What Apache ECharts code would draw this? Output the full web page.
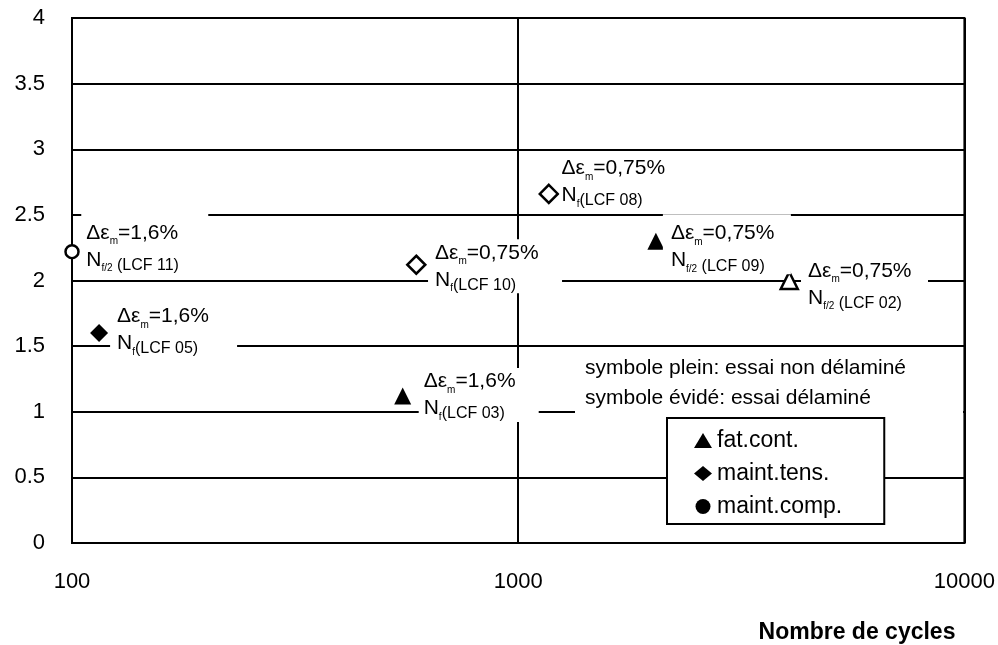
<!DOCTYPE html>
<html>
<head>
<meta charset="utf-8">
<script src="https://cdn.jsdelivr.net/npm/echarts@6/dist/echarts.min.js"></script>
<style>
html,body{margin:0;padding:0;background:#fff;}
#chart{width:998px;height:645px;}
</style>
</head>
<body>
<div id="chart"></div>
<script>
// ---- data ----
const seriesNames = ['fat.cont.', 'maint.tens.', 'maint.comp.'];
const xTickLabels = ['100', '1000', '10000'];

// fat.cont. (triangles)
const fatSpecimen = ['LCF 09', 'LCF 03', 'LCF 02'];
const fatCycles   = [2035, 551, 4050];
const fatValue    = [2.30, 1.12, 2.00];
const fatFilled   = [true, true, false];
const fatStrain   = ['0,75', '1,6', '0,75'];
const fatLife     = ['f/2', 'f', 'f/2'];

// maint.tens. (diamonds)
const tensSpecimen = ['LCF 05', 'LCF 10', 'LCF 08'];
const tensCycles   = [115, 591, 1171];
const tensValue    = [1.60, 2.12, 2.66];
const tensFilled   = [true, false, false];
const tensStrain   = ['1,6', '0,75', '0,75'];
const tensLife     = ['f', 'f', 'f'];

// maint.comp. (circles)
const compSpecimen = ['LCF 11'];
const compCycles   = [100];
const compValue    = [2.22];
const compFilled   = [false];
const compStrain   = ['1,6'];
const compLife     = ['f/2'];

const noteLines = ['symbole plein: essai non délaminé', 'symbole évidé: essai délaminé'];
const xTitle = 'Nombre de cycles';

// ---- layout / style (not data) ----
const FONT = '"Liberation Sans", Arial, sans-serif';
const labelLayout = {
  'LCF 11': {offset: [1.5, -8],  padding: [8, 0, 2, 5], width: 122},
  'LCF 05': {offset: [2, -3],    padding: [4, 0, 4, 7], width: 120},
  'LCF 10': {offset: [1.5, 1.5], padding: [0, 0, 0, 7], width: 127},
  'LCF 08': {offset: [0.5, -12], padding: [0, 0, 0, 2], width: 120},
  'LCF 09': {offset: [-1.5, 3],  padding: [6, 0, 0, 8], width: 120},
  'LCF 02': {offset: [2, 4],     padding: [0, 0, 0, 7], width: 120},
  'LCF 03': {offset: [7.5, -1],  padding: [0, 0, 0, 5], width: 115}
};

function labelText(strain, life, spec) {
  const sep = life === 'f/2' ? ' (' : '(';
  return '{de|Δε}{sb|m}{de|=' + strain + '%}\n{nn|N}{sb|' + life + '}{lc|' + sep + spec + ')}';
}

function buildData(cycles, values, filled, specs) {
  return cycles.map((c, i) => {
    const lay = labelLayout[specs[i]];
    const item = {
      value: [c, values[i]],
      label: {offset: lay.offset, padding: lay.padding, width: lay.width}
    };
    if (!filled[i]) {
      item.itemStyle = {color: '#fff', borderColor: '#000', borderWidth: 2.5, opacity: 1};
    }
    return item;
  });
}

const rich = {
  de: {fontSize: 21, fontFamily: FONT, color: '#000', lineHeight: 27},
  nn: {fontSize: 21, fontFamily: FONT, color: '#000', lineHeight: 27},
  sb: {fontSize: 10, fontFamily: FONT, color: '#000', lineHeight: 25, verticalAlign: 'bottom'},
  lc: {fontSize: 16, fontFamily: FONT, color: '#000', lineHeight: 23, verticalAlign: 'bottom'}
};

function makeSeries(name, symbol, size, cycles, values, filled, strains, lifes, specs) {
  return {
    name: name,
    type: 'scatter',
    symbol: symbol,
    symbolSize: size,
    clip: false,
    itemStyle: {color: '#000', opacity: 1},
    label: {
      show: true,
      position: 'right',
      distance: 0,
      opacity: 1,
      backgroundColor: '#fff',
      lineHeight: 27,
      align: 'left',
      overflow: 'none',
      rich: rich,
      formatter: p => labelText(strains[p.dataIndex], lifes[p.dataIndex], specs[p.dataIndex])
    },
    emphasis: {disabled: true},
    data: buildData(cycles, values, filled, specs)
  };
}

const chart = echarts.init(document.getElementById('chart'), null, {renderer: 'canvas'});
chart.setOption({
  animation: false,
  backgroundColor: '#fff',
  grid: {left: 72, right: 30, top: 18, bottom: 102, show: true, borderColor: '#000', borderWidth: 2},
  xAxis: {
    type: 'log', logBase: 10, min: 100, max: 10000,
    axisLine: {lineStyle: {color: '#000', width: 2}},
    axisTick: {show: false},
    splitLine: {show: true, lineStyle: {color: '#000', width: 2}},
    axisLabel: {
      color: '#000', fontSize: 22, fontFamily: FONT, margin: 28,
      formatter: v => xTickLabels[Math.round(Math.log10(v)) - 2] || ''
    }
  },
  yAxis: {
    type: 'value', min: 0, max: 4, interval: 0.5,
    axisLine: {show: true, lineStyle: {color: '#000', width: 2}},
    axisTick: {show: false},
    splitLine: {show: true, lineStyle: {color: '#000', width: 2}},
    axisLabel: {color: '#000', fontSize: 22, fontFamily: FONT, margin: 27}
  },
  legend: {
    data: seriesNames,
    orient: 'vertical',
    left: 667, top: 418,
    padding: [11, 42, 6, 27],
    itemGap: 10,
    itemWidth: 18, itemHeight: 15,
    backgroundColor: '#fff',
    borderColor: '#000', borderWidth: 2,
    textStyle: {color: '#000', fontSize: 23, fontFamily: FONT},
    selectedMode: false
  },
  graphic: [
    {type: 'rect', z: 10, shape: {x: 575, y: 352, width: 388, height: 63}, style: {fill: '#fff'}},
    {type: 'text', z: 11, x: 585, y: 353,
     style: {text: noteLines.join('\n'), font: '21px ' + FONT, lineHeight: 30, fill: '#000'}},
    {type: 'text', z: 11, x: 857, y: 633,
     style: {text: xTitle, font: 'bold 23px ' + FONT, fill: '#000', align: 'center', verticalAlign: 'middle'}}
  ],
  series: [
    makeSeries(seriesNames[0], 'triangle', 17, fatCycles, fatValue, fatFilled, fatStrain, fatLife, fatSpecimen),
    makeSeries(seriesNames[1], 'diamond', 18, tensCycles, tensValue, tensFilled, tensStrain, tensLife, tensSpecimen),
    makeSeries(seriesNames[2], 'circle', 13, compCycles, compValue, compFilled, compStrain, compLife, compSpecimen)
  ]
});
</script>
</body>
</html>
